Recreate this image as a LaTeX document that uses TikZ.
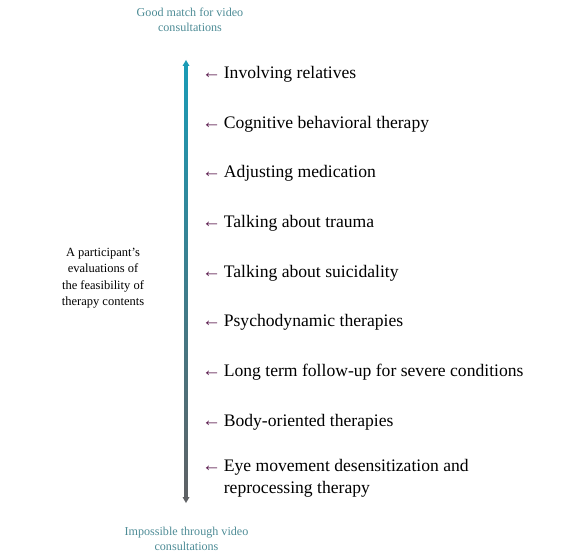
\documentclass[tikz,border=0pt]{standalone}
\usepackage{fontspec}
\setmainfont{Liberation Serif}
\definecolor{tealtop}{HTML}{1A9BB6}
\definecolor{greybot}{HTML}{5F6164}
\definecolor{labteal}{HTML}{4E8C96}
\definecolor{arrpurple}{HTML}{5E2052}
\newcommand{\larr}{{\color{arrpurple}\fontsize{19}{22}\selectfont ←}\hspace{0.15em}}
\begin{document}
\begin{tikzpicture}[x=1pt,y=-1pt,
  item/.style={anchor=west,inner sep=0pt,font=\fontsize{17.6}{22}\selectfont,align=left},
  endlab/.style={inner sep=0pt,font=\fontsize{12.1}{15.5}\selectfont,text=labteal,align=center},
  sidelab/.style={inner sep=0pt,font=\fontsize{12.5}{16.5}\selectfont,align=center}]
\useasboundingbox (0,0) rectangle (578,559);
\coordinate (top) at (186,60);
\coordinate (bot) at (186,503);
% gradient shaft
\shade[top color=tealtop,bottom color=greybot] (184.5,64) rectangle (187.5,499);
\fill[tealtop] (top) -- ++(-3.5,6) -- ++(7,0) -- cycle;
\fill[greybot] (bot) -- ++(-3.5,-6) -- ++(7,0) -- cycle;
\node[endlab] (good) at (190,20) {Good match for video\\consultations};
\node[endlab] (imp) at (186.5,539) {Impossible through video\\consultations};
\node[sidelab] (side) at (103,278) {A participant's\\evaluations of\\the feasibility of\\therapy contents};
\foreach \n/\y/\t in {1/74.5/Involving relatives,2/124.5/Cognitive behavioral therapy,3/173.5/Adjusting medication,4/223.5/Talking about trauma,5/273.5/Talking about suicidality,6/322.5/Psychodynamic therapies,7/372.5/Long term follow-up for severe conditions,8/422.5/Body-oriented therapies}{
  \node[item] (i\n) at (202,\y) {\larr\t};
}
\node[item,anchor=north west] (i9) at (202,459.5) {\larr Eye movement desensitization and\\\phantom{\larr}reprocessing therapy};
\end{tikzpicture}
\end{document}
